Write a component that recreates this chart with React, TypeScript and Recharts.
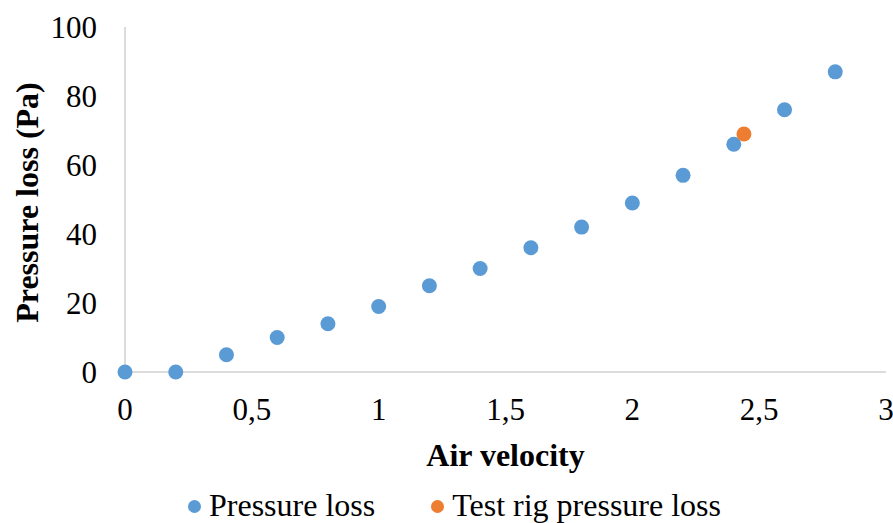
import { Label, Scatter, ScatterChart, XAxis, YAxis } from "recharts";

const velocity = [0, 0.2, 0.4, 0.6, 0.8, 1.0, 1.2, 1.4, 1.6, 1.8, 2.0, 2.2, 2.4, 2.6, 2.8];
const pressureLoss = [0, 0, 5, 10, 14, 19, 25, 30, 36, 42, 49, 57, 66, 76, 87];
const rigVelocity = [2.44];
const rigPressureLoss = [69];
const xTicks = [0, 0.5, 1, 1.5, 2, 2.5, 3];
const yTicks = [0, 20, 40, 60, 80, 100];

const BLUE = "#5B9BD5";
const ORANGE = "#ED7D31";
const AXIS = "#D0D0D0";
const FONT = "'Liberation Serif', 'Times New Roman', serif";

const mainData = velocity.map((v, i) => ({ x: v, y: pressureLoss[i] }));
const rigData = rigVelocity.map((v, i) => ({ x: v, y: rigPressureLoss[i] }));

const legendItems = [
  { name: "Pressure loss", color: BLUE },
  { name: "Test rig pressure loss", color: ORANGE }
];

const dot = (color: string) => (props: any) => <circle cx={props.cx} cy={props.cy} r={7.5} fill={color} />;

export default function App() {
  return (
    <div style={{ position: "absolute", left: 0, top: 0, width: 893, height: 523, fontFamily: FONT, background: "#fff" }}>
      <ScatterChart width={893} height={523} margin={{ top: 27, right: 7, bottom: 0, left: 0 }}>
        <XAxis
          type="number"
          dataKey="x"
          domain={[0, 3]}
          ticks={xTicks}
          tickFormatter={(v: number) => String(v).replace(".", ",")}
          tick={{ fill: "#000", fontSize: 31 }}
          tickLine={false}
          tickSize={0}
          tickMargin={26}
          axisLine={{ stroke: AXIS, strokeWidth: 1.5 }}
          height={151}
          interval={0}
        >
          <Label
            value="Air velocity"
            position="insideTop"
            offset={71}
            style={{ fontWeight: "bold", fontSize: 32, fill: "#000" }}
          />
        </XAxis>
        <YAxis
          type="number"
          dataKey="y"
          domain={[0, 100]}
          ticks={yTicks}
          tick={{ fill: "#000", fontSize: 31 }}
          tickLine={false}
          tickSize={0}
          tickMargin={28}
          axisLine={{ stroke: AXIS, strokeWidth: 1.5 }}
          width={125}
          interval={0}
        >
          <Label
            value="Pressure loss (Pa)"
            angle={-90}
            position="insideLeft"
            offset={27}
            dy={3}
            style={{ fontWeight: "bold", fontSize: 32, fill: "#000", textAnchor: "middle" }}
          />
        </YAxis>
        <Scatter name="Pressure loss" data={mainData} fill={BLUE} shape={dot(BLUE)} isAnimationActive={false} />
        <Scatter name="Test rig pressure loss" data={rigData} fill={ORANGE} shape={dot(ORANGE)} isAnimationActive={false} />
      </ScatterChart>
      <div style={{ position: "absolute", top: 488, left: 8, width: 893, display: "flex", justifyContent: "center", fontSize: 32, color: "#000", lineHeight: "34px" }}>
        {legendItems.map((item, i) => (
          <div key={item.name} style={{ display: "flex", alignItems: "center", marginLeft: i === 0 ? 0 : 56 }}>
            <span style={{ width: 13, height: 13, borderRadius: "50%", background: item.color, display: "inline-block", marginRight: 8, marginTop: 2 }} />
            <span>{item.name}</span>
          </div>
        ))}
      </div>
    </div>
  );
}
